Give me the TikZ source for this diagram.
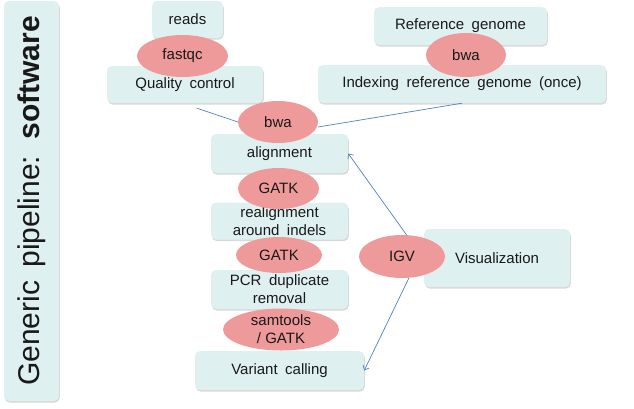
\documentclass[tikz,border=0pt]{standalone}
\usepackage{fontspec}
\setmainfont{Liberation Sans}
\usetikzlibrary{shapes.geometric,shadows,arrows.meta}
\definecolor{boxfill}{HTML}{DFF0F0}
\definecolor{ovalfill}{HTML}{EE9A9A}
\definecolor{linkblue}{HTML}{4F81BD}
\newcommand{\boxfont}{\fontsize{15}{18}\selectfont\spaceskip 0.5em\relax}
\newcommand{\titlefont}{\fontsize{30}{34}\selectfont\spaceskip 0.45em\relax}
\tikzset{
  box/.style={rectangle, rounded corners=5pt, fill=boxfill, draw=none,
    drop shadow={shadow xshift=0.8pt, shadow yshift=-1.6pt, fill=black!25, opacity=0.6},
    align=center, inner sep=2pt, text=black!90, font=\boxfont},
  oval/.style={ellipse, fill=ovalfill, draw=none, inner sep=0pt, align=center,
    text=black!90, font=\fontsize{15}{18}\selectfont},
  link/.style={draw=linkblue, line width=0.7pt},
  arrowlink/.style={link, -{Straight Barb[length=4pt,width=7pt]}}
}
\begin{document}
\begin{tikzpicture}[x=1pt,y=-1pt]
\useasboundingbox (0,0) rectangle (634,408);
% title bar
\node[box, rotate=90, minimum width=400pt, minimum height=55pt, font=\titlefont] (title) at (31.5,201)
  {Generic pipeline: \textbf{software}};
% boxes
\node[box, minimum width=71pt, minimum height=37pt] (reads) at (187.5,19.5) {reads};
\node[box, minimum width=156pt, minimum height=37pt] (qc) at (185,84.5) {Quality control};
\node[box, minimum width=173pt, minimum height=38pt] (refg) at (460.5,26) {Reference genome};
\node[box, minimum width=288pt, minimum height=38pt] (index) at (462,84) {Indexing reference genome (once)};
\node[box, minimum width=137pt, minimum height=39pt] (align) at (279.5,153.5) {alignment};
\node[box, minimum width=137pt, minimum height=37pt] (realign) at (279.5,221) {realignment\\around indels};
\node[box, minimum width=137pt, minimum height=39pt] (pcr) at (279.5,289.5) {PCR duplicate\\removal};
\node[box, minimum width=169pt, minimum height=39pt] (vc) at (279.5,370.5) {Variant calling};
\node[box, minimum width=146pt, minimum height=58pt] (vis) at (497,258) {Visualization};
% ovals
\node[oval, minimum width=91pt, minimum height=42pt] (fastqc) at (182.5,56) {fastqc};
\node[oval, minimum width=80pt, minimum height=42pt] (bwa1) at (278,122) {bwa};
\node[oval, minimum width=80pt, minimum height=44pt] (bwa2) at (466,55) {bwa};
\node[oval, minimum width=81pt, minimum height=41pt] (gatk1) at (278.5,188.5) {GATK};
\node[oval, minimum width=86pt, minimum height=36pt] (gatk2) at (279,255) {GATK};
\node[oval, minimum width=116pt, minimum height=42pt] (samtools) at (281,329.5) {samtools\\/ GATK};
\node[oval, minimum width=86pt, minimum height=43pt] (igv) at (402,256.5) {IGV};
% connectors
\draw[link] ([xshift=12pt,yshift=-5pt]qc.south) -- (bwa1.west);
\draw[link] (index.south) -- ([yshift=-5pt]bwa1.east);
\draw[arrowlink] (igv.78) -- (align.east);
\draw[arrowlink] (igv.-72) -- (vc.east);
\end{tikzpicture}
\end{document}
